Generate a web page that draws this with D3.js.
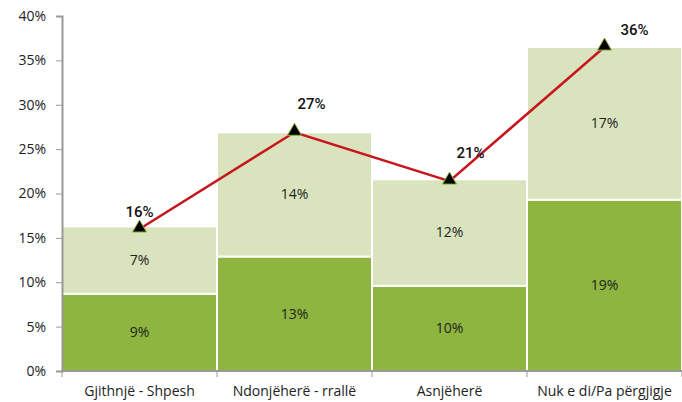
<!DOCTYPE html>
<html>
<head>
<meta charset="utf-8">
<script src="https://cdn.jsdelivr.net/npm/d3@7"></script>
<style>
  body { margin: 0; background: #fff; }
  text { font-family: "Open Sans", "DejaVu Sans", sans-serif; }
</style>
</head>
<body>
<div id="chart"></div>
<script>
// data
const categories = ["Gjithnjë - Shpesh", "Ndonjëherë - rrallë", "Asnjëherë", "Nuk e di/Pa përgjigje"];
const bottomVals = [8.7, 12.9, 9.6, 19.3];
const topVals = [7.6, 14.0, 12.0, 17.2];
const bottomLabels = ["9%", "13%", "10%", "19%"];
const topLabels = ["7%", "14%", "12%", "17%"];
const lineVals = [16.0, 26.9, 21.4, 36.5];
const lineLabels = ["16%", "27%", "21%", "36%"];
const yTicks = [0, 5, 10, 15, 20, 25, 30, 35, 40];

// label nudges (px)
const labelDx = [0, 17, 21, 30];
const labelDy = [-12, -23, -23, -12];

const width = 682, height = 402;
const margin = {left: 62, right: 0, top: 16, bottom: 31};

const svg = d3.select("#chart")
              .append("svg")
              .attr("width", width)
              .attr("height", height);

const x = d3.scaleBand()
            .domain(categories)
            .range([margin.left, width - margin.right])
            .padding(0);

const y = d3.scaleLinear()
            .domain([0, 40])
            .range([height - margin.bottom, margin.top]);

// bars
const g = svg.append("g");
categories.forEach(function(c, i) {
  g.append("rect")
   .attr("x", x(c))
   .attr("y", y(bottomVals[i]))
   .attr("width", x.bandwidth())
   .attr("height", y(0) - y(bottomVals[i]))
   .attr("fill", "#8db53f")
   .attr("stroke", "#fff")
   .attr("stroke-width", 2);
  g.append("rect")
   .attr("x", x(c))
   .attr("y", y(bottomVals[i] + topVals[i]))
   .attr("width", x.bandwidth())
   .attr("height", y(bottomVals[i]) - y(bottomVals[i] + topVals[i]))
   .attr("fill", "#d9e4bf")
   .attr("stroke", "#fff")
   .attr("stroke-width", 2);

  g.append("text")
   .attr("x", x(c) + x.bandwidth() / 2)
   .attr("y", y(bottomVals[i] / 2))
   .attr("dy", "0.35em")
   .attr("text-anchor", "middle")
   .attr("font-size", 14)
   .attr("fill", "#222")
   .text(bottomLabels[i]);
  g.append("text")
   .attr("x", x(c) + x.bandwidth() / 2)
   .attr("y", y(bottomVals[i] + topVals[i] / 2))
   .attr("dy", "0.35em")
   .attr("text-anchor", "middle")
   .attr("font-size", 14)
   .attr("fill", "#222")
   .text(topLabels[i]);
});

// y axis
const yAxis = svg.append("g")
                 .attr("transform", "translate(" + margin.left + ",0)")
                 .call(d3.axisLeft(y).tickValues(yTicks).tickSize(6).tickPadding(10)
                         .tickFormat(function(d) { return d + "%"; }));
yAxis.selectAll("text").attr("font-size", 14).attr("fill", "#222")
     .style("font-family", "'Open Sans', 'DejaVu Sans', sans-serif");
yAxis.selectAll("line").attr("stroke", "#999");
yAxis.select(".domain").attr("stroke", "#999").attr("stroke-width", 2);

// x axis
const xAxis = svg.append("g")
                 .attr("transform", "translate(0," + y(0) + ")");
xAxis.append("line")
     .attr("x1", margin.left).attr("x2", width - margin.right)
     .attr("stroke", "#999").attr("stroke-width", 2);
const bounds = categories.map(function(c) { return x(c); }).concat([x(categories[categories.length - 1]) + x.bandwidth()]);
xAxis.selectAll(".tk")
     .data(bounds)
     .enter()
     .append("line")
     .attr("x1", function(d) { return d; })
     .attr("x2", function(d) { return d; })
     .attr("y1", 0).attr("y2", 6)
     .attr("stroke", "#999");
xAxis.selectAll(".lbl")
     .data(categories)
     .enter()
     .append("text")
     .attr("x", function(d) { return x(d) + x.bandwidth() / 2; })
     .attr("y", 25)
     .attr("text-anchor", "middle")
     .attr("font-size", 14)
     .attr("fill", "#222")
     .text(function(d) { return d; });

// line
const cx = function(i) { return x(categories[i]) + x.bandwidth() / 2; };
const line = d3.line()
               .x(function(d, i) { return cx(i); })
               .y(function(d) { return y(d); });
svg.append("path")
   .datum(lineVals)
   .attr("d", line)
   .attr("fill", "none")
   .attr("stroke", "#c8161d")
   .attr("stroke-width", 2.5);

svg.selectAll(".mk")
   .data(lineVals)
   .enter()
   .append("path")
   .attr("d", d3.symbol().type(d3.symbolTriangle).size(85))
   .attr("transform", function(d, i) { return "translate(" + cx(i) + "," + (y(d) - 1) + ")"; })
   .attr("fill", "#000")
   .attr("stroke", "#8db53f")
   .attr("stroke-width", 1);

svg.selectAll(".ll")
   .data(lineVals)
   .enter()
   .append("text")
   .attr("x", function(d, i) { return cx(i) + labelDx[i]; })
   .attr("y", function(d, i) { return y(d) + labelDy[i]; })
   .attr("text-anchor", "middle")
   .attr("font-size", 15)
   .style("font-family", "Roboto, 'Open Sans', sans-serif")
   .attr("font-weight", 500)
   .attr("fill", "#111")
   .text(function(d, i) { return lineLabels[i]; });
</script>
</body>
</html>
